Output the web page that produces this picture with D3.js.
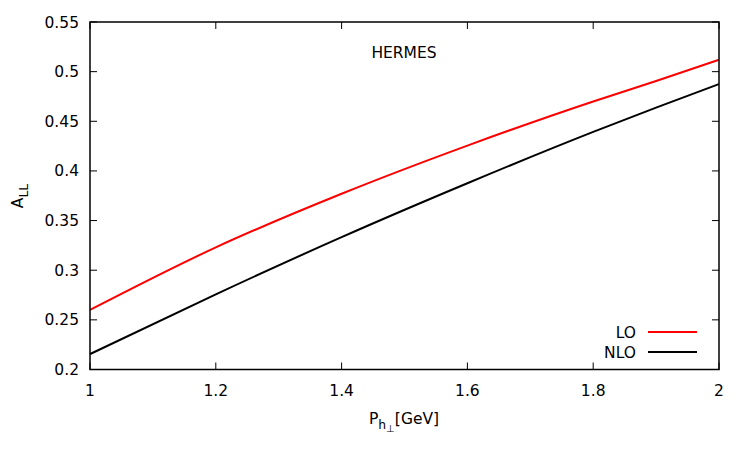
<!DOCTYPE html>
<html><head><meta charset="utf-8">
<script src="https://cdn.jsdelivr.net/npm/d3@7"></script>
<style>body{margin:0;background:#fff}svg{display:block}text{font-family:"DejaVu Sans",sans-serif;}</style>
</head><body><svg id="c" width="750" height="450"></svg>
<script>
const xVals = [1.0, 1.2, 1.4, 1.6, 1.8, 1.9, 2.0];
const loVals = [0.260, 0.323, 0.377, 0.4255, 0.470, 0.4905, 0.512];
const nloVals = [0.2155, 0.2757, 0.3333, 0.3876, 0.4393, 0.4638, 0.4875];
const xTicks = [1, 1.2, 1.4, 1.6, 1.8, 2];
const xTickLabels = ["1", "1.2", "1.4", "1.6", "1.8", "2"];
const yTicks = [0.2, 0.25, 0.3, 0.35, 0.4, 0.45, 0.5, 0.55];
const yTickLabels = ["0.2", "0.25", "0.3", "0.35", "0.4", "0.45", "0.5", "0.55"];
const seriesNames = ["LO", "NLO"];
const seriesColors = ["#ff0000", "#000000"];

const svg = d3.select("#c");
const L = 90, R = 719, T = 22, B = 369.5;
const x = d3.scaleLinear().domain([1, 2]).range([L, R]);
const y = d3.scaleLinear().domain([0.2, 0.55]).range([B, T]);
const fs = 15.5;
const tl = 7;

const g = svg.append("g");
xTicks.forEach((v, i) => {
  g.append("line").attr("x1", x(v)).attr("x2", x(v)).attr("y1", B).attr("y2", B - tl).attr("stroke", "#000").attr("stroke-width", 1);
  g.append("line").attr("x1", x(v)).attr("x2", x(v)).attr("y1", T).attr("y2", T + tl).attr("stroke", "#000").attr("stroke-width", 1);
  g.append("text").attr("x", x(v)).attr("y", B + 26).attr("text-anchor", "middle").attr("font-size", fs).text(xTickLabels[i]);
});
yTicks.forEach((v, i) => {
  g.append("line").attr("x1", L).attr("x2", L + tl).attr("y1", y(v)).attr("y2", y(v)).attr("stroke", "#000").attr("stroke-width", 1);
  g.append("line").attr("x1", R).attr("x2", R - tl).attr("y1", y(v)).attr("y2", y(v)).attr("stroke", "#000").attr("stroke-width", 1);
  g.append("text").attr("x", L - 11).attr("y", y(v) + 5.5).attr("text-anchor", "end").attr("font-size", fs).text(yTickLabels[i]);
});

const line = d3.line().x(d => x(d[0])).y(d => y(d[1])).curve(d3.curveMonotoneX);
[loVals, nloVals].forEach((vals, k) => {
  svg.append("path").datum(xVals.map((xv, i) => [xv, vals[i]]))
    .attr("d", line).attr("fill", "none").attr("stroke", seriesColors[k]).attr("stroke-width", 2);
});

svg.append("rect").attr("x", L).attr("y", T).attr("width", R - L).attr("height", B - T)
  .attr("fill", "none").attr("stroke", "#000").attr("stroke-width", 1.5);

seriesNames.forEach((n, k) => {
  const yy = 332 + k * 20;
  svg.append("text").attr("x", 636).attr("y", yy + 5.5).attr("text-anchor", "end").attr("font-size", fs).text(n);
  svg.append("line").attr("x1", 648).attr("x2", 697).attr("y1", yy).attr("y2", yy).attr("stroke", seriesColors[k]).attr("stroke-width", 2);
});

svg.append("text").attr("x", 404).attr("y", 58).attr("text-anchor", "middle").attr("font-size", fs).text("HERMES");

const xt = svg.append("text").attr("x", 404).attr("y", 424).attr("text-anchor", "middle").attr("font-size", fs);
xt.append("tspan").text("P");
xt.append("tspan").attr("dy", 5).attr("font-size", fs * 0.8).text("h");
xt.append("tspan").attr("dy", 3).attr("font-size", fs * 0.65).text("⊥");
xt.append("tspan").attr("dy", -8).text("[GeV]");

const yt = svg.append("text").attr("transform", "translate(23,196) rotate(-90)").attr("text-anchor", "middle").attr("font-size", fs);
yt.append("tspan").text("A");
yt.append("tspan").attr("dy", 5).attr("font-size", fs * 0.8).text("LL");
</script></body></html>
